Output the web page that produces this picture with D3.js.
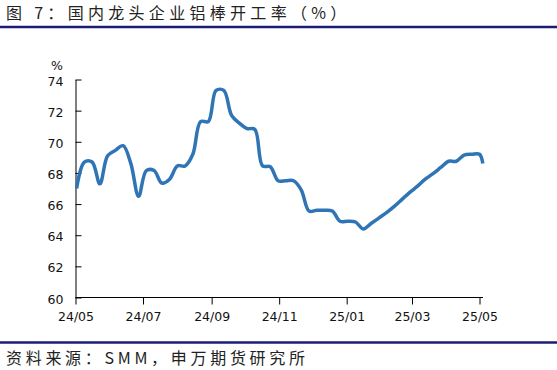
<html>
<head>
<meta charset="utf-8">
<script src="https://d3js.org/d3.v7.min.js"></script>
<style>
  body { margin: 0; background: #fff; }
  .cjk { font-family: "Noto Sans CJK SC", sans-serif; }
</style>
</head>
<body>
<svg id="svg" width="557" height="370"></svg>
<script>
// weekly dates, first one 2024-05-02
var startDate = "2024-05-02";
var rates = [67.0, 68.7, 68.7, 67.3, 69.1, 69.45, 69.75, 68.6, 66.5, 68.15,
             68.15, 67.35, 67.6, 68.45, 68.45, 69.2, 71.3, 71.3, 73.3, 73.3,
             71.7, 71.2, 70.85, 70.8, 68.45, 68.4, 67.5, 67.5, 67.5, 66.9,
             65.55, 65.6, 65.6, 65.55, 64.9, 64.9, 64.85, 64.4, 64.75, 65.1,
             65.45, 65.85, 66.3, 66.75, 67.15, 67.6, 67.95, 68.35, 68.75, 68.75,
             69.15, 69.2, 69.2];
var lastDate = "2025-05-04";
var lastRate = 68.6;
var yTicks = [60, 62, 64, 66, 68, 70, 72, 74];
var xTicks = ["2024-05-01", "2024-07-01", "2024-09-01", "2024-11-01", "2025-01-01", "2025-03-01", "2025-05-01"];

var parse = d3.timeParse("%Y-%m-%d");
var fmt = d3.timeFormat("%y/%m");
var data = rates.map(function(v, i) {
    return { date: d3.timeDay.offset(parse(startDate), i * 7), value: v };
});
data.push({ date: parse(lastDate), value: lastRate });

var svg = d3.select("svg");

var x = d3.scaleTime().domain([parse("2024-05-01"), parse("2025-05-01")]).range([75.5, 479.5]);
var y = d3.scaleLinear().domain([60, 74]).range([297.5, 79.5]);

// title + rules
svg.append("text").attr("class", "cjk").attr("x", 6).attr("y", 19)
    .attr("font-size", 16).attr("letter-spacing", 4.3).attr("fill", "#222")
    .text("图 7：国内龙头企业铝棒开工率（%）");
svg.append("line").attr("x1", 0).attr("x2", 557).attr("y1", 27).attr("y2", 27)
    .attr("stroke", "#1c1c78").attr("stroke-width", 2.5);
svg.append("line").attr("x1", 0).attr("x2", 557).attr("y1", 342.5).attr("y2", 342.5)
    .attr("stroke", "#1c1c78").attr("stroke-width", 2.5);
svg.append("text").attr("class", "cjk").attr("x", 6).attr("y", 364)
    .attr("font-size", 16).attr("letter-spacing", 3.7).attr("fill", "#222")
    .text("资料来源：SMM，申万期货研究所");

// axes
var yAxis = d3.axisLeft(y).tickValues(yTicks).tickSizeInner(-6).tickSizeOuter(0).tickPadding(12);
var gy = svg.append("g").attr("transform", "translate(75.5,0)").call(yAxis);
gy.selectAll("text").attr("fill", "#111").attr("dy", "0.45em")
    .attr("font-family", "DejaVu Sans, sans-serif").style("font-size", "12.5px");

var xAxis = d3.axisBottom(x).tickValues(xTicks.map(parse)).tickFormat(fmt).tickSize(7).tickPadding(8);
var gx = svg.append("g").attr("transform", "translate(0,297.5)").call(xAxis);
gx.select(".domain").attr("d", "M75.5,0H483");
gx.selectAll("text").attr("fill", "#111")
    .attr("font-family", "DejaVu Sans, sans-serif").style("font-size", "12.5px");

svg.selectAll(".domain, .tick line").attr("stroke", "#000");

svg.append("text").attr("x", 57).attr("y", 70).attr("text-anchor", "middle")
    .attr("font-family", "DejaVu Sans, sans-serif").style("font-size", "12.5px")
    .attr("fill", "#111").text("%");

// series
var line = d3.line()
    .x(function(d) { return x(d.date); })
    .y(function(d) { return y(d.value); })
    .curve(d3.curveCatmullRom.alpha(0.5));

svg.append("path").datum(data)
    .attr("d", line)
    .attr("fill", "none")
    .attr("stroke", "#2f75b5")
    .attr("stroke-width", 3.5);
</script>
</body>
</html>
